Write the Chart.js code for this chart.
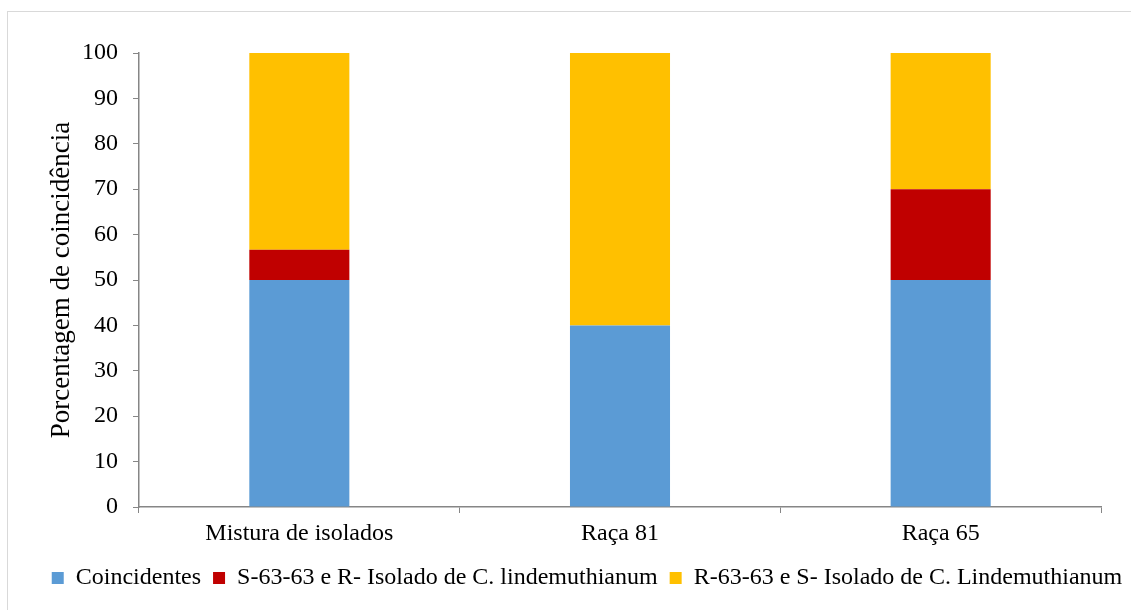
<!DOCTYPE html>
<html>
<head>
<meta charset="utf-8">
<script src="https://cdn.jsdelivr.net/npm/chart.js@4.4.1/dist/chart.umd.min.js"></script>
<style>
  html, body { margin: 0; padding: 0; background: #fff; overflow: hidden; }
  #frame { position: absolute; left: 7px; top: 11px; width: 1140px; height: 620px; border: 1px solid #d9d9d9; box-sizing: border-box; }
  #wrap { position: absolute; left: 0; top: 0; width: 1131px; height: 610px; }
</style>
</head>
<body>
<div id="frame"></div>
<div id="wrap"><canvas id="c" width="1131" height="610"></canvas></div>
<script>
// Categories and stacked series (percentages)
const categories = ['Mistura de isolados', 'Raça 81', 'Raça 65'];
const coincidentes = [50, 40, 50];
const s6363R = [6.67, 0, 20];
const r6363S = [43.33, 60, 30];
const yTicks = [0, 10, 20, 30, 40, 50, 60, 70, 80, 90, 100];

const seriesNames = [
  'Coincidentes',
  'S-63-63 e R- Isolado de C. lindemuthianum',
  'R-63-63 e S- Isolado de C. Lindemuthianum'
];
const seriesColors = ['#5B9BD5', '#C00000', '#FFC000'];
const seriesData = [coincidentes, s6363R, r6363S];

const FONT = "'Liberation Serif', 'Times New Roman', serif";
const AXIS = '#868686';

Chart.defaults.font.family = FONT;
Chart.defaults.color = '#000';

new Chart(document.getElementById('c'), {
  type: 'bar',
  data: {
    labels: categories,
    datasets: seriesData.map((d, i) => ({
      label: seriesNames[i],
      data: d,
      backgroundColor: seriesColors[i],
      borderWidth: 0,
      categoryPercentage: 1,
      barPercentage: 0.312
    }))
  },
  options: {
    responsive: false,
    animation: false,
    // the legend row runs slightly past the right edge so it stays on one line
    layout: { padding: { left: 33, right: -10, top: 53, bottom: 10 } },
    plugins: {
      legend: {
        position: 'bottom',
        labels: {
          font: { size: 24, family: FONT },
          color: '#000',
          boxWidth: 12,
          boxHeight: 12,
          padding: 12
        }
      },
      tooltip: { enabled: false }
    },
    scales: {
      x: {
        stacked: true,
        grid: {
          display: true,
          drawOnChartArea: false,
          drawTicks: true,
          tickLength: 6,
          color: AXIS,
          offset: true
        },
        border: { display: true, color: AXIS, width: 1.5 },
        ticks: { font: { size: 24, family: FONT }, color: '#000', padding: 6 },
        afterFit: s => { s.height = 47; }
      },
      y: {
        stacked: true,
        min: 0,
        max: 100,
        afterBuildTicks: s => { s.ticks = yTicks.map(v => ({ value: v })); },
        grid: {
          display: true,
          drawOnChartArea: false,
          drawTicks: true,
          tickLength: 6,
          color: AXIS
        },
        border: { display: true, color: AXIS, width: 1.5 },
        ticks: { font: { size: 24, family: FONT }, color: '#000', padding: 15 },
        title: {
          display: true,
          text: 'Porcentagem de coincidência',
          font: { size: 27, family: FONT, lineHeight: 1 },
          color: '#000',
          padding: { top: 15, bottom: 0 }
        },
        afterFit: s => { s.width = 106; }
      },
      // empty right-hand margin between the plot and the frame
      yRight: {
        position: 'right',
        display: true,
        grid: { display: false },
        border: { display: false },
        ticks: { display: false },
        afterFit: s => { s.width = 40; }
      }
    }
  }
});
</script>
</body>
</html>
